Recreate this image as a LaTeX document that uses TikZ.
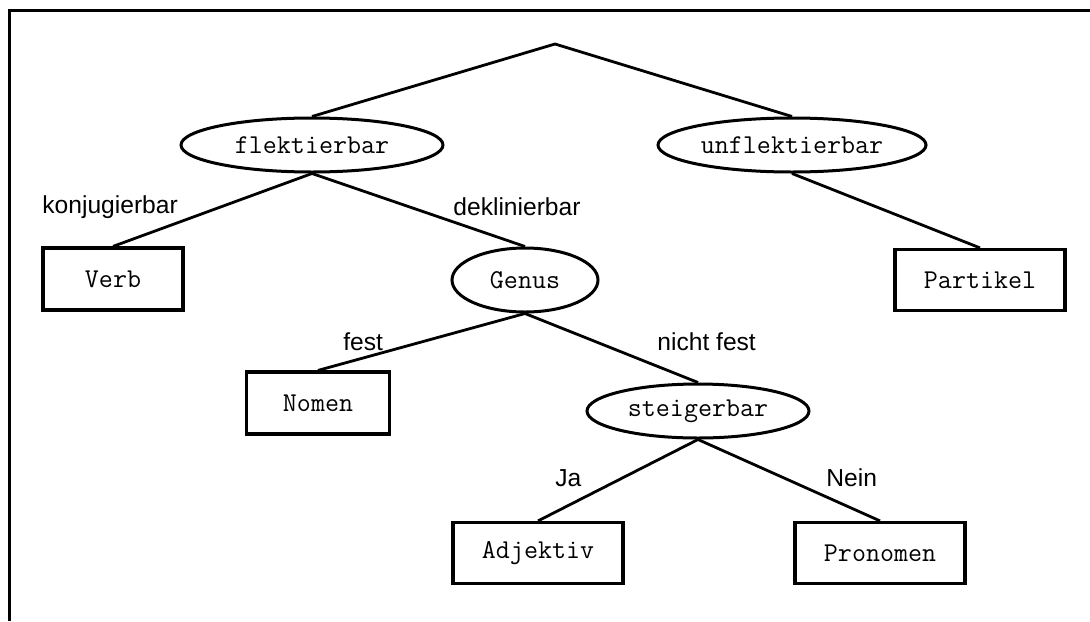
\documentclass[tikz,border=0pt]{standalone}
\usepackage{fontspec}
\setmainfont{Liberation Sans}
\usetikzlibrary{shapes.geometric}
\tikzset{
  codetext/.style={font=\ttfamily\fontsize{13.6}{16}\selectfont},
  oval/.style={ellipse, draw, line width=1.5pt, inner sep=0pt, codetext},
  leaf/.style={rectangle, draw, line width=1.6pt, inner sep=0pt, minimum width=85pt, minimum height=30.5pt, codetext},
  branch/.style={line width=1.4pt},
  tag/.style={inner sep=0pt, font=\fontsize{12.3}{14}\selectfont},
}
\begin{document}
\begin{tikzpicture}[x=0.5pt, y=-0.5pt]
\useasboundingbox (0,0) rectangle (1090,621);
% frame along the top and left edges
\draw[line width=1.8pt] (9.5,621) -- (9.5,10.5) -- (1090,10.5);

% root of the tree
\coordinate (root) at (555,44);

% inner nodes
\node[oval, minimum width=131pt, minimum height=27pt] (flek) at (312,145) {flektierbar};
\node[oval, minimum width=134pt, minimum height=27pt] (unflek) at (792,145) {unflektierbar};
\node[oval, minimum width=73pt, minimum height=32pt] (genus) at (525,280) {Genus};
\node[oval, minimum width=111pt, minimum height=27pt] (steig) at (698,411) {steigerbar};

% leaves
\node[leaf, minimum width=70pt, minimum height=31pt] (verb) at (113,279) {Verb};
\node[leaf, minimum height=30.5pt] (partikel) at (980,280) {Partikel};
\node[leaf, minimum width=71.5pt, minimum height=31pt] (nomen) at (318,403) {Nomen};
\node[leaf] (adjektiv) at (538,553) {Adjektiv};
\node[leaf] (pronomen) at (880,553) {Pronomen};

% branches
\draw[branch] (flek.north) -- (root) -- (unflek.north);
\draw[branch] (verb.north) -- (flek.south) -- (genus.north);
\draw[branch] (unflek.south) -- (partikel.north);
\draw[branch] (nomen.north) -- (genus.south) -- (steig.north);
\draw[branch] (adjektiv.north) -- (steig.south) -- (pronomen.north);

% branch labels
\node[tag, anchor=west] (l1) at (42,207) {konjugierbar};
\node[tag, anchor=west] (l2) at (453,207) {deklinierbar};
\node[tag, anchor=west] (l3) at (343,342) {fest};
\node[tag, anchor=west] (l4) at (657,342) {nicht fest};
\node[tag, anchor=west] (l5) at (555,478) {Ja};
\node[tag, anchor=west] (l6) at (826,478) {Nein};
\end{tikzpicture}
\end{document}
